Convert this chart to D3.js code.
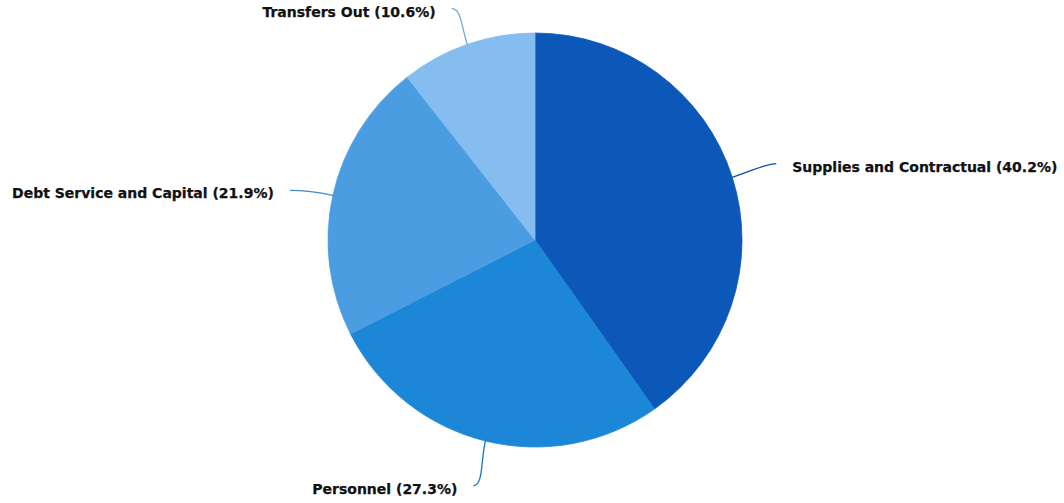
<!DOCTYPE html>
<html>
<head>
<meta charset="utf-8">
<script src="https://cdn.jsdelivr.net/npm/d3@7"></script>
<style>
  html, body { margin: 0; padding: 0; background: #ffffff; }
  svg { display: block; }
</style>
</head>
<body>
<svg id="chart" width="1064" height="503"></svg>
<script>
const categories = ["Supplies and Contractual", "Personnel", "Debt Service and Capital", "Transfers Out"];
const shares = [40.2, 27.3, 21.9, 10.6];
const colors = ["#0c58b8", "#1d87d7", "#4b9de1", "#85bdf0"];
const labelTexts = ["Supplies and Contractual (40.2%)", "Personnel (27.3%)", "Debt Service and Capital (21.9%)", "Transfers Out (10.6%)"];

const width = 1064, height = 503;
const cx = 535, cy = 240, radius = 207;
const connectorDist = 42, labelGap = 16;

const svg = d3.select("#chart");
const g = svg.append("g").attr("transform", `translate(${cx},${cy})`);

const data = categories.map((c, i) => ({ name: c, value: shares[i], color: colors[i], label: labelTexts[i] }));

const pie = d3.pie().value(d => d.value).sort(null).startAngle(0).endAngle(2 * Math.PI);
const arcs = pie(data);
const arc = d3.arc().innerRadius(0).outerRadius(radius);

g.selectAll("path.slice")
  .data(arcs)
  .join("path")
  .attr("class", "slice")
  .attr("d", arc)
  .attr("fill", d => d.data.color)
  .attr("stroke", d => d.data.color)
  .attr("stroke-width", 0.8);

function polar(angle, r) {
  return [r * Math.sin(angle), -r * Math.cos(angle)];
}

arcs.forEach(a => {
  const mid = (a.startAngle + a.endAngle) / 2;
  const edge = polar(mid, radius);
  const raw = polar(mid, radius + connectorDist);
  const dir = raw[0] >= 0 ? 1 : -1;
  const end = [raw[0] - (dir < 0 ? 2 : -4), raw[1] + (dir < 0 ? 4 : -1)];
  const c1 = [end[0] - dir * 10, end[1]];
  const c2 = polar(mid, radius + connectorDist * 0.45);
  g.append("path")
    .attr("d", `M${end[0]},${end[1]} C${c1[0]},${c1[1]} ${c2[0]},${c2[1]} ${edge[0]},${edge[1]}`)
    .attr("fill", "none")
    .attr("stroke", d3.color(a.data.color).darker(0.35))
    .attr("stroke-width", 1.3);
  g.append("text")
    .attr("x", end[0] + dir * labelGap)
    .attr("y", end[1] + 4)
    .attr("dominant-baseline", "middle")
    .attr("text-anchor", dir > 0 ? "start" : "end")
    .attr("font-family", "'DejaVu Sans', sans-serif")
    .attr("font-weight", "bold")
    .attr("font-size", 14)
    .attr("fill", "#111111")
    .attr("stroke", "#111111")
    .attr("stroke-width", 0.25)
    .text(a.data.label);
});
</script>
</body>
</html>
